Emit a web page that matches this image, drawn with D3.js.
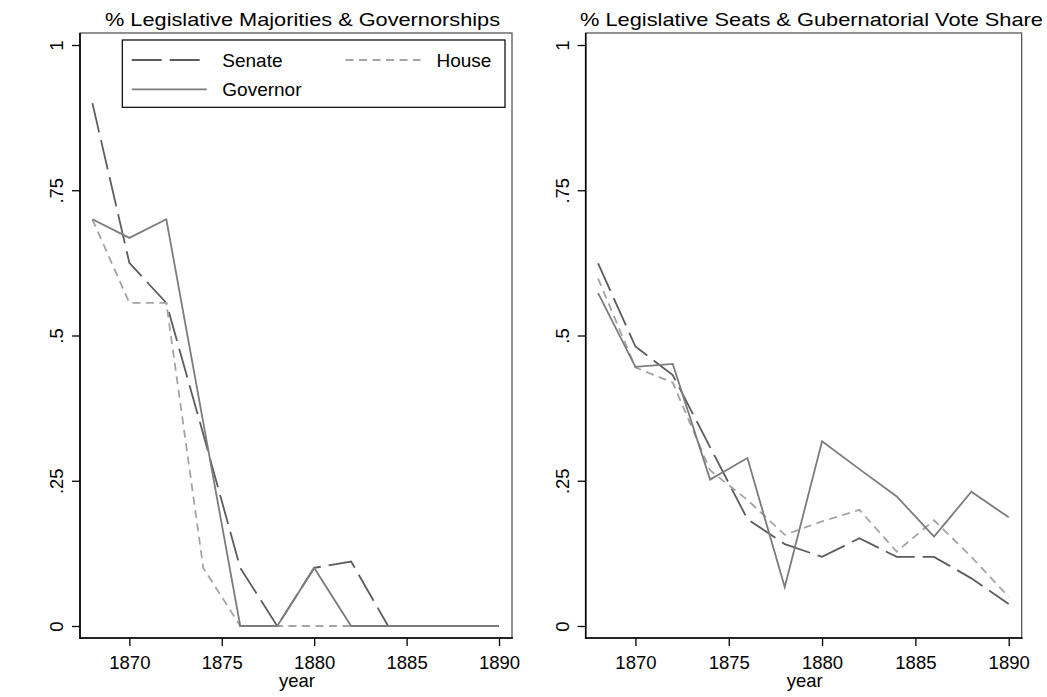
<!DOCTYPE html>
<html>
<head>
<meta charset="utf-8">
<script src="https://cdn.jsdelivr.net/npm/d3@7"></script>
<style>
  body { margin: 0; background: #fff; }
  text { font-family: "Liberation Sans", Arial, sans-serif; fill: #000; }
</style>
</head>
<body>
<svg id="chart" width="1047" height="697"></svg>
<script>
var years = [1868, 1870, 1872, 1874, 1876, 1878, 1880, 1882, 1884, 1886, 1888, 1890];

// left panel: share of legislative majorities & governorships
var majSenate = [0.9, 0.625, 0.556, 0.33, 0.1, 0, 0.1, 0.111, 0, 0, 0, 0];
var majHouse  = [0.7, 0.556, 0.556, 0.1, 0, 0, 0, 0, 0, 0, 0, 0];
var majGov    = [0.7, 0.668, 0.7, 0.35, 0, 0, 0.1, 0, 0, 0, 0, 0];

// right panel: share of seats & gubernatorial vote
var seatSenate = [0.624, 0.481, 0.432, 0.308, 0.184, 0.141, 0.119, 0.151, 0.119, 0.119, 0.082, 0.038];
var seatHouse  = [0.598, 0.445, 0.419, 0.268, 0.217, 0.157, 0.18, 0.2, 0.128, 0.182, 0.119, 0.05];
var govShare   = [0.573, 0.446, 0.451, 0.252, 0.289, 0.067, 0.318, 0.27, 0.223, 0.154, 0.231, 0.187];

var yTicks = [0, 0.25, 0.5, 0.75, 1];
var yTickLabels = ["0", ".25", ".5", ".75", "1"];
var xTicks = [1870, 1875, 1880, 1885, 1890];

var styles = {
  senate: { color: "#5c5c5c", dash: "30,8" },
  house:  { color: "#a4a4a4", dash: "8,5.5" },
  gov:    { color: "#7c7c7c", dash: null }
};

var svg = d3.select("#chart");

function drawPanel(opts) {
  var left = opts.left, right = opts.right, top = 33, bottom = 638;

  var x = d3.scaleLinear().domain([1868, 1890]).range([left + 12.4, right - 13]);
  var y = d3.scaleLinear().domain([0, 1]).range([626, 45]);

  var g = svg.append("g");

  // plot frame (top/right grey)
  g.append("rect")
    .attr("x", left).attr("y", top)
    .attr("width", right - left).attr("height", bottom - top)
    .attr("fill", "none").attr("stroke", "#4a4a4a").attr("stroke-width", 1.2);

  var yAxis = d3.axisLeft(y)
    .tickValues(yTicks)
    .tickSize(8)
    .tickSizeOuter(0)
    .tickFormat(function(d, i) { return yTickLabels[i]; });

  var ya = g.append("g")
    .attr("transform", "translate(" + left + ",0)")
    .call(yAxis);
  ya.select(".domain").remove();
  ya.selectAll(".tick line").attr("stroke", "#000").attr("stroke-width", 1.3);
  ya.selectAll(".tick text")
    .attr("x", 0).attr("dy", 0)
    .attr("transform", "translate(-17,0) rotate(-90)")
    .attr("text-anchor", "middle")
    .style("font-size", "18.5px");

  var xAxis = d3.axisBottom(x)
    .tickValues(xTicks)
    .tickSize(8)
    .tickSizeOuter(0)
    .tickFormat(d3.format("d"));

  var xa = g.append("g")
    .attr("transform", "translate(0," + bottom + ")")
    .call(xAxis);
  xa.select(".domain").remove();
  xa.selectAll(".tick line").attr("stroke", "#000").attr("stroke-width", 1.3);
  xa.selectAll(".tick text")
    .attr("y", 0).attr("dy", 0)
    .attr("transform", "translate(0,31)")
    .style("font-size", "18.5px");

  // black left and bottom axis lines
  g.append("line")
    .attr("x1", left).attr("x2", left).attr("y1", top).attr("y2", bottom + 1)
    .attr("stroke", "#000").attr("stroke-width", 1.6);
  g.append("line")
    .attr("x1", left).attr("x2", right + 1).attr("y1", bottom).attr("y2", bottom)
    .attr("stroke", "#000").attr("stroke-width", 1.6);

  g.append("text")
    .attr("x", (left + right) / 2 + 1)
    .attr("y", 687)
    .attr("text-anchor", "middle")
    .style("font-size", "18.5px")
    .text("year");

  g.append("text")
    .attr("x", opts.titleX)
    .attr("y", 26)
    .attr("text-anchor", "middle")
    .attr("textLength", opts.titleWidth)
    .attr("lengthAdjust", "spacingAndGlyphs")
    .style("font-size", "19px")
    .text(opts.title);

  var line = d3.line()
    .x(function(d, i) { return x(years[i]); })
    .y(function(d) { return y(d); });

  opts.series.forEach(function(s) {
    var st = styles[s.key];
    g.append("path")
      .datum(s.values)
      .attr("d", line)
      .attr("fill", "none")
      .attr("stroke", st.color)
      .attr("stroke-width", 1.8)
      .attr("stroke-dasharray", st.dash);
  });
}

drawPanel({
  left: 80, right: 512,
  title: "% Legislative Majorities & Governorships",
  titleX: 302.5, titleWidth: 395,
  series: [
    { key: "senate", values: majSenate },
    { key: "house", values: majHouse },
    { key: "gov", values: majGov }
  ]
});

drawPanel({
  left: 585.7, right: 1021.7,
  title: "% Legislative Seats & Gubernatorial Vote Share",
  titleX: 811.5, titleWidth: 463,
  series: [
    { key: "senate", values: seatSenate },
    { key: "house", values: seatHouse },
    { key: "gov", values: govShare }
  ]
});

// legend in the left panel
var legendItems = [
  { key: "senate", label: "Senate", x: 131.7, y: 60 },
  { key: "house", label: "House", x: 345.5, y: 60 },
  { key: "gov", label: "Governor", x: 131.7, y: 89.3 }
];

var lg = svg.append("g");
lg.append("rect")
  .attr("x", 122.3).attr("y", 40)
  .attr("width", 382.7).attr("height", 67.3)
  .attr("fill", "#fff").attr("stroke", "#000").attr("stroke-width", 1.2);

legendItems.forEach(function(d) {
  var st = styles[d.key];
  lg.append("line")
    .attr("x1", d.x).attr("x2", d.x + 75)
    .attr("y1", d.y).attr("y2", d.y)
    .attr("stroke", st.color)
    .attr("stroke-width", 1.8)
    .attr("stroke-dasharray", st.dash);
  lg.append("text")
    .attr("x", d.x + (d.key === "house" ? 91 : 90.6))
    .attr("y", d.y + 6.6)
    .style("font-size", "19px")
    .text(d.label);
});
</script>
</body>
</html>
